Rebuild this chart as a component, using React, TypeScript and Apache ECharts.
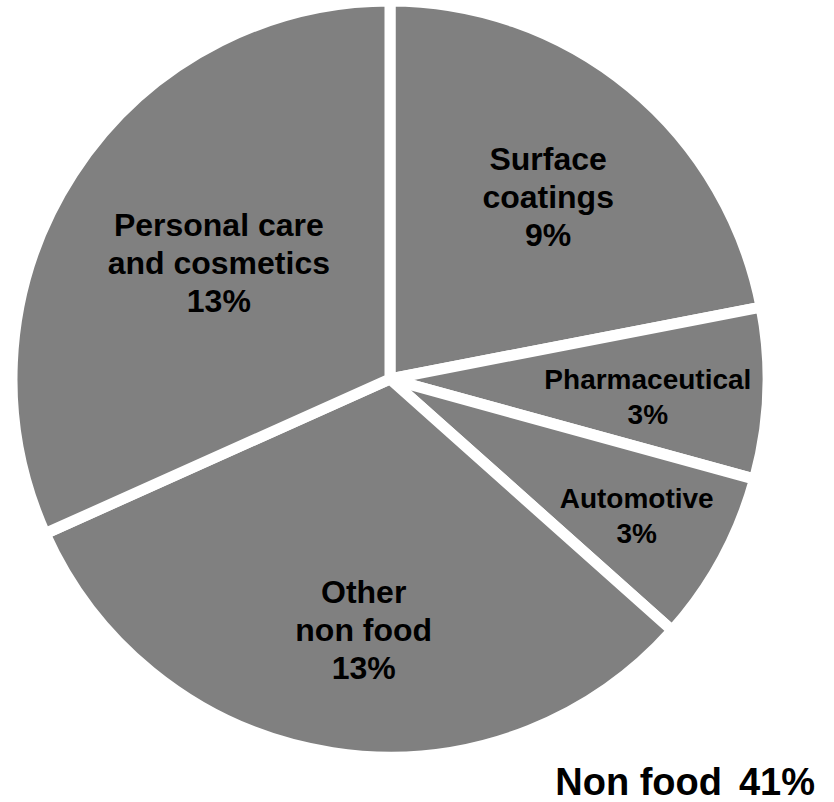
import React, { useEffect, useRef } from "react";
import * as echarts from "echarts";

const categories = ["Surface coatings", "Pharmaceutical", "Automotive", "Other non food", "Personal care and cosmetics"];
const labelTexts = ["Surface\ncoatings\n9%", "Pharmaceutical\n3%", "Automotive\n3%", "Other\nnon food\n13%", "Personal care\nand cosmetics\n13%"];
const values = [9, 3, 3, 13, 13];
const totalName = "Non food";
const totalValue = "41%";

const FONT = 'Arial, "Liberation Sans", sans-serif';
const labelSizes = [32, 28, 28, 32, 32];
const labelLineHeights = [38, 35, 35, 38, 38];
const labelOffsets: [number, number][] = [
  [36, -34],
  [66, 11],
  [78, 45],
  [3, 61],
  [-10, -12],
];

export default function App() {
  const ref = useRef<HTMLDivElement>(null);
  useEffect(() => {
    if (!ref.current) return;
    const chart = echarts.init(ref.current, null, { renderer: "svg" });
    chart.setOption({
      animation: false,
      backgroundColor: "#ffffff",
      title: {
        text: `{a|${totalName}} {b|${totalValue}}`,
        right: 19,
        top: 764,
        padding: 0,
        textStyle: {
          rich: {
            a: { fontFamily: FONT, fontSize: 38, fontWeight: "bold", color: "#000", lineHeight: 36 },
            b: { fontFamily: FONT, fontSize: 38, fontWeight: "bold", color: "#000", lineHeight: 36, padding: [0, 0, 0, 12] },
          },
        },
      },
      series: [
        {
          type: "pie",
          center: [390, 379],
          radius: [0, 378],
          startAngle: 90,
          clockwise: true,
          silent: true,
          itemStyle: { color: "#808080", borderColor: "#ffffff", borderWidth: 11 },
          labelLine: { show: false },
          data: categories.map((name, i) => ({
            name,
            value: values[i],
            label: {
              show: true,
              position: "inside",
              formatter: labelTexts[i],
              fontFamily: FONT,
              fontWeight: "bold",
              fontSize: labelSizes[i],
              lineHeight: labelLineHeights[i],
              color: "#000",
              align: "center",
              offset: labelOffsets[i],
            },
          })),
        },
      ],
    });
    return () => chart.dispose();
  }, []);
  return <div ref={ref} style={{ position: "absolute", left: 0, top: 0, width: 834, height: 802 }} />;
}
